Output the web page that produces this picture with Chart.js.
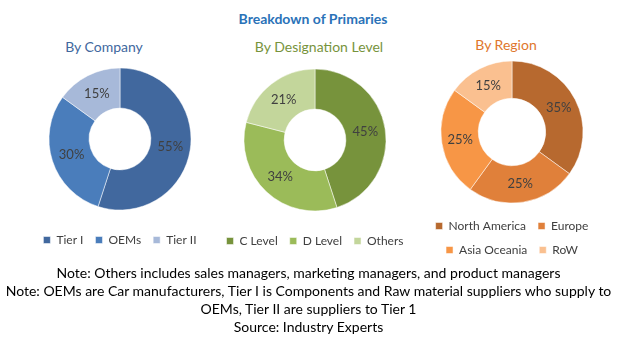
<!DOCTYPE html>
<html>
<head>
<meta charset="utf-8">
<script src="https://cdn.jsdelivr.net/npm/chart.js@4"></script>
<style>
  body { margin: 0; background: #fff; width: 617px; height: 344px; position: relative; overflow: hidden; font-family: Lato, "Open Sans", sans-serif; }
  .t { position: absolute; white-space: nowrap; text-align: center; }
  canvas { position: absolute; }
</style>
</head>
<body>
<div class="t" style="left:0;width:626px;top:10px;font-size:14px;font-weight:bold;color:#2a72b8;">Breakdown of Primaries</div>
<div class="t" style="left:0;width:208px;top:38px;font-size:14px;color:#41689e;">By Company</div>
<div class="t" style="left:219px;width:200px;top:38px;font-size:14px;color:#77933c;">By Designation Level</div>
<div class="t" style="left:406px;width:200px;top:36px;font-size:14px;color:#e0762c;">By Region</div>

<canvas id="c1" width="200" height="200" style="left:20px;top:56px;"></canvas>
<canvas id="c2" width="240" height="200" style="left:195px;top:57px;"></canvas>
<canvas id="c3" width="200" height="210" style="left:412px;top:56px;"></canvas>

<div class="t" style="left:0;width:617px;top:264px;font-size:14px;line-height:18px;color:#000;">
Note: Others includes sales managers, marketing managers, and product managers<br>
Note: OEMs are Car manufacturers, Tier I is Components and Raw material suppliers who supply to<br>
OEMs, Tier II are suppliers to Tier 1<br>
Source: Industry Experts
</div>

<script>
// данные по трём кольцам
const companyLabels = ['Tier I', 'OEMs', 'Tier II']
const companyValues = [55, 30, 15]
const companyColors = ['#41689e', '#4a7dbb', '#a7b9d9']

const levelLabels = ['C Level', 'D Level', 'Others']
const levelValues = [45, 34, 21]
const levelColors = ['#77933c', '#9bbb59', '#c3d69b']

const regionLabels = ['North America', 'Europe', 'Asia Oceania', 'RoW']
const regionValues = [35, 25, 25, 15]
const regionColors = ['#b7692f', '#e0803a', '#f79646', '#fac090']

// подписи процентов прямо на сегментах
const pctLabels = {
    id: 'pctLabels',
    afterDatasetsDraw(chart) {
        const c = chart.ctx
        const meta = chart.getDatasetMeta(0)
        const data = chart.data.datasets[0].data
        c.save()
        c.font = '13px Lato, sans-serif'
        c.fillStyle = '#404040'
        c.textAlign = 'center'
        c.textBaseline = 'middle'
        meta.data.forEach((arc, i) => {
            const p = arc.tooltipPosition()
            c.fillText(data[i] + '%', p.x, p.y)
        })
        c.restore()
    }
}

function drawDonut(id, labels, values, colors) {
    return new Chart(document.querySelector(id), {
        type: 'doughnut',
        data: {
            labels: labels,
            datasets: [{
                data: values,
                backgroundColor: colors,
                borderColor: '#ffffff',
                borderWidth: 0.5
            }]
        },
        options: {
            responsive: false,
            animation: false,
            radius: 71,
            cutout: 36,
            plugins: {
                legend: {
                    position: 'bottom',
                    labels: {
                        boxWidth: 7,
                        boxHeight: 7,
                        padding: 12,
                        color: '#404040',
                        font: { size: 12, family: 'Lato, sans-serif' }
                    }
                },
                tooltip: { enabled: false }
            }
        },
        plugins: [pctLabels]
    })
}

drawDonut('#c1', companyLabels, companyValues, companyColors)
drawDonut('#c2', levelLabels, levelValues, levelColors)
drawDonut('#c3', regionLabels, regionValues, regionColors)
</script>
</body>
</html>
